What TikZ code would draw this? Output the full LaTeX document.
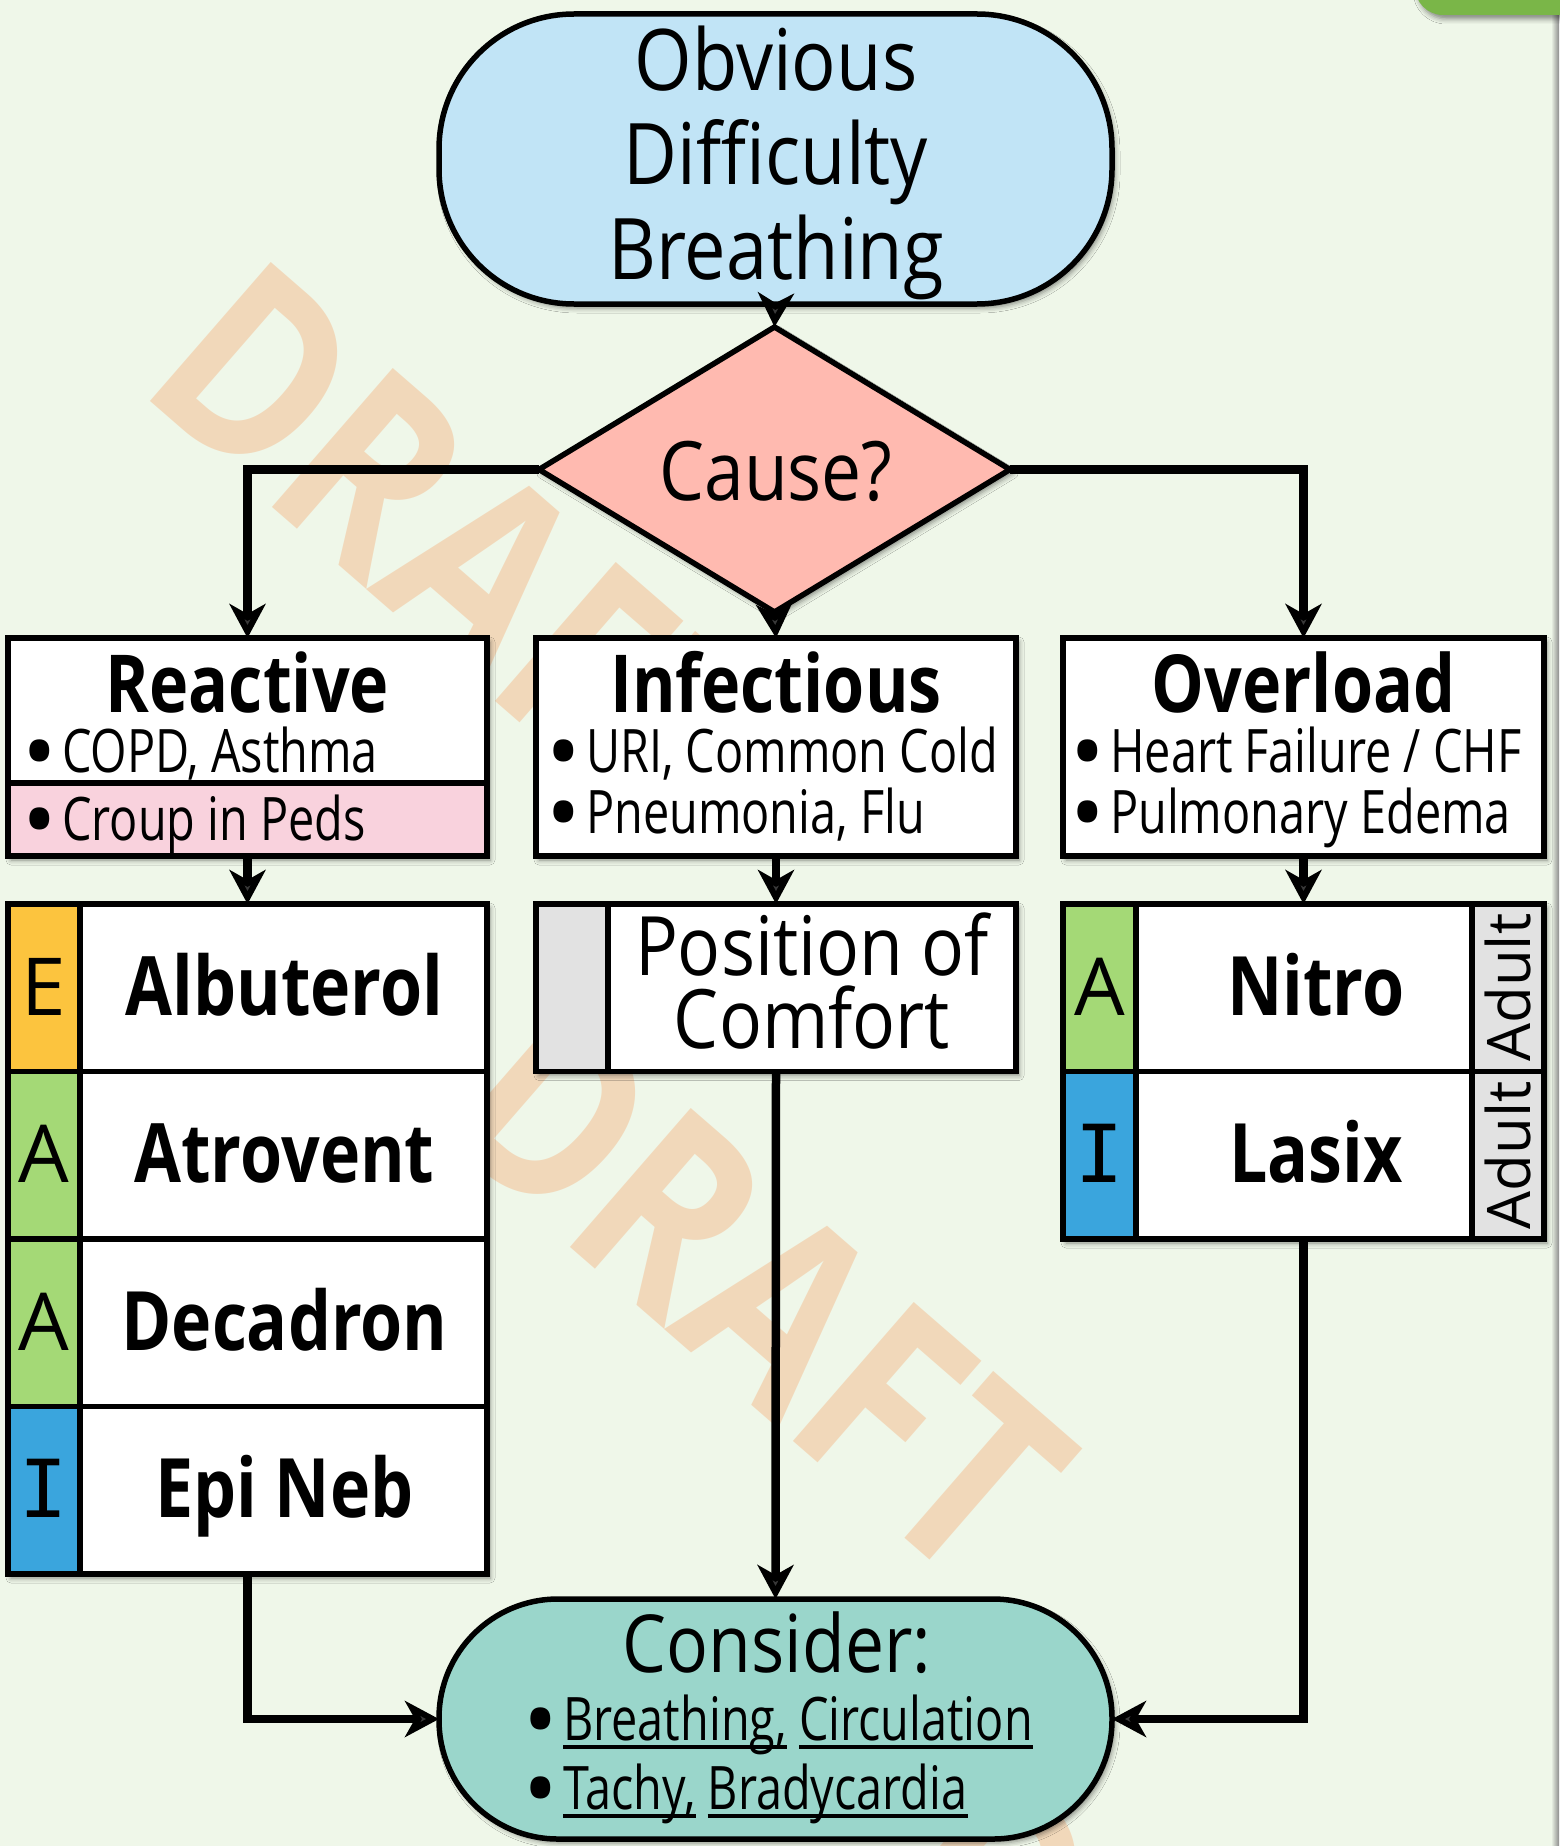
\documentclass[tikz,border=0pt]{standalone}
\usepackage{fontspec}
\setmainfont{Open Sans}
\newfontfamily\fsemi[FakeStretch=0.87]{Open Sans}
\newfontfamily\fcond[FakeStretch=0.78]{Open Sans}
\newfontfamily\fbold[FakeStretch=0.83]{Open Sans}
\newfontfamily\fwm[FakeStretch=0.85]{Open Sans}
\newfontfamily\fmono{DejaVu Sans Mono}
\usetikzlibrary{shapes.geometric,arrows.meta,shadows.blur}
\definecolor{bg}{RGB}{239,247,233}
\definecolor{startc}{RGB}{193,228,246}
\definecolor{causec}{RGB}{255,186,176}
\definecolor{endc}{RGB}{154,214,203}
\definecolor{pinkc}{RGB}{249,210,221}
\definecolor{yelc}{RGB}{252,196,62}
\definecolor{grnc}{RGB}{164,217,118}
\definecolor{bluc}{RGB}{58,165,221}
\definecolor{grayc}{RGB}{226,226,226}
\definecolor{wmc}{RGB}{245,168,112}
\definecolor{topgreen}{RGB}{122,182,72}
\newcommand\myul[1]{\leavevmode\setbox0=\hbox{#1}\rlap{\rule[-9pt]{\wd0}{4pt}}\box0\relax}
\newcommand\bu{\rlap{\hspace{-7pt}\rmfamily\fontsize{92}{60}\selectfont\raisebox{-12pt}{•}}\hspace{33pt}}
\tikzset{
  boxf/.style={draw=black, line width=5.5pt, outer sep=0pt, inner sep=0pt,
    blur shadow={shadow xshift=3pt, shadow yshift=-4pt, shadow blur radius=5pt, shadow opacity=45}},
  cellf/.style={draw=black, line width=5.5pt, outer sep=0pt, inner sep=0pt, anchor=north west},
  conn/.style={line width=8.5pt, -{Stealth[length=34pt,width=36pt,inset=10pt]}},
  lblf/.style={inner sep=0pt, anchor=base},
  bulf/.style={inner sep=0pt, anchor=base west, font=\fcond\fontsize{60}{60}\selectfont},
  ttlf/.style={lblf, font=\fbold\bfseries\fontsize{80}{80}\selectfont},
  medf/.style={lblf, font=\fbold\bfseries\fontsize{82}{82}\selectfont},
  bigf/.style={lblf, font=\fsemi\fontsize{85}{85}\selectfont},
  lettf/.style={lblf, font=\fontsize{80}{80}\selectfont},
  wmf/.style={inner sep=0pt, rotate=-41, text=wmc, text opacity=0.38, font=\fwm\bfseries\fontsize{258}{258}\selectfont},
}
\begin{document}
\begin{tikzpicture}[x=1pt,y=-1pt]
\useasboundingbox (0,0) rectangle (1559,1846);
\fill[bg] (0,0) rectangle (1559,1846);
\shade[left color=bg, right color=black!45] (1551,0) rectangle (1559,1846);
% watermark
\begin{scope}
\clip (0,0) rectangle (1559,1846);
\node[wmf] (wm1) at (462,550) {DRAFT};
\node[wmf] (wm2) at (760,1290) {DRAFT};
\node[wmf] (wm3) at (1200,2055) {DRAFT};
\end{scope}
\fill[topgreen, rounded corners=28pt, blur shadow={shadow xshift=3pt, shadow yshift=-4pt, shadow blur radius=5pt, shadow opacity=45}] (1415,-60) rectangle (1640,15);

% top terminal
\node[boxf, fill=startc, minimum width=673pt, minimum height=290pt, rounded corners=135pt] (start) at (775.5,159) {};
\node[bigf] (st1) at (776,91) {Obvious};
\node[bigf] (st2) at (776,185) {Difficulty};
\node[bigf] (st3) at (776,279) {Breathing};

% diamond
\node[boxf, diamond, fill=causec, minimum width=471pt, minimum height=285pt, aspect=1.65] (cause) at (774.5,469.5) {};
\node[lblf, font=\fsemi\fontsize{82}{82}\selectfont] (causeT) at (776,500) {Cause?};

% row 1
\node[boxf, fill=white, minimum width=479pt, minimum height=218pt] (reac) at (247.5,747) {};
\node[cellf, fill=pinkc, minimum width=479pt, minimum height=73pt, anchor=south] (croup) at (reac.south) {};
\node[ttlf] (reacT) at (247.5,712) {Reactive};
\node[bulf] (reac1) at (29,772) {\bu COPD, Asthma};
\node[bulf] (reac2) at (29,840) {\bu Croup in Peds};

\node[boxf, fill=white, minimum width=480pt, minimum height=218pt] (infe) at (776,747) {};
\node[ttlf] (infeT) at (776,712) {Infectious};
\node[bulf] (infe1) at (553,772) {\bu URI, Common Cold};
\node[bulf] (infe2) at (553,833) {\bu Pneumonia, Flu};

\node[boxf, fill=white, minimum width=481pt, minimum height=218pt] (over) at (1303.5,747) {};
\node[ttlf] (overT) at (1303.5,712) {Overload};
\node[bulf] (over1) at (1077,772) {\bu Heart Failure / CHF};
\node[bulf] (over2) at (1077,833) {\bu Pulmonary Edema};

% row 2 left
\node[boxf, fill=white, minimum width=479pt, minimum height=670pt, anchor=north west] (meds) at (8,904) {};
\node[cellf, fill=yelc, minimum width=72pt, minimum height=167.5pt] (cE) at (8,904) {};
\node[cellf, fill=white, minimum width=407pt, minimum height=167.5pt] (albu) at (80,904) {};
\node[cellf, fill=grnc, minimum width=72pt, minimum height=167.5pt] (cA1) at (8,1071.5) {};
\node[cellf, fill=white, minimum width=407pt, minimum height=167.5pt] (atro) at (80,1071.5) {};
\node[cellf, fill=grnc, minimum width=72pt, minimum height=167.5pt] (cA2) at (8,1239) {};
\node[cellf, fill=white, minimum width=407pt, minimum height=167.5pt] (deca) at (80,1239) {};
\node[cellf, fill=bluc, minimum width=72pt, minimum height=167.5pt] (cI) at (8,1406.5) {};
\node[cellf, fill=white, minimum width=407pt, minimum height=167.5pt] (epin) at (80,1406.5) {};
\node[lettf] (lE) at (44,1015) {E};
\node[lettf] (lA1) at (44,1182.5) {A};
\node[lettf] (lA2) at (44,1350) {A};
\node[lblf, font=\fmono\fontsize{80}{80}\selectfont] (lI) at (44,1517.5) {I};
\node[medf] (albuT) at (284.5,1015) {Albuterol};
\node[medf] (atroT) at (284.5,1182.5) {Atrovent};
\node[medf] (decaT) at (284.5,1350) {Decadron};
\node[medf] (epinT) at (284.5,1517.5) {Epi Neb};

% row 2 middle
\node[boxf, fill=white, minimum width=480pt, minimum height=167.5pt, anchor=north west] (pos) at (536,904) {};
\node[cellf, fill=grayc, minimum width=72pt, minimum height=167.5pt] (cG) at (536,904) {};
\node[lblf, font=\fsemi\fontsize{82}{82}\selectfont] (pos1) at (812,975) {Position of};
\node[lblf, font=\fsemi\fontsize{82}{82}\selectfont] (pos2) at (812,1048) {Comfort};

% row 2 right
\node[boxf, fill=white, minimum width=481pt, minimum height=335pt, anchor=north west] (nl) at (1063,904) {};
\node[cellf, fill=grnc, minimum width=73pt, minimum height=167.5pt] (cA3) at (1063,904) {};
\node[cellf, fill=white, minimum width=336pt, minimum height=167.5pt] (nitr) at (1136,904) {};
\node[cellf, fill=grayc, minimum width=72pt, minimum height=167.5pt] (ad1) at (1472,904) {};
\node[cellf, fill=bluc, minimum width=73pt, minimum height=167.5pt] (cI2) at (1063,1071.5) {};
\node[cellf, fill=white, minimum width=336pt, minimum height=167.5pt] (lasi) at (1136,1071.5) {};
\node[cellf, fill=grayc, minimum width=72pt, minimum height=167.5pt] (ad2) at (1472,1071.5) {};
\node[lettf] (lA3) at (1099.5,1015) {A};
\node[lblf, font=\fmono\fontsize{80}{80}\selectfont] (lI2) at (1099.5,1182.5) {I};
\node[medf] (nitrT) at (1316,1015) {Nitro};
\node[medf] (lasiT) at (1316,1182.5) {Lasix};
\node[inner sep=0pt, rotate=90, font=\fontsize{60}{60}\selectfont] (ad1T) at (ad1.center) {Adult};
\node[inner sep=0pt, rotate=90, font=\fontsize{60}{60}\selectfont] (ad2T) at (ad2.center) {Adult};

% bottom terminal
\node[boxf, fill=endc, minimum width=673pt, minimum height=240pt, rounded corners=119pt] (cons) at (775.5,1719) {};
\node[lblf, font=\fsemi\fontsize{80}{80}\selectfont] (consT) at (777,1672) {Consider:};
\node[bulf] (cons1) at (530,1740) {\bu\myul{Breathing,} \myul{Circulation}};
\node[bulf] (cons2) at (530,1809) {\bu\myul{Tachy,} \myul{Bradycardia}};

% connectors
\draw[conn] (start.south) -- (cause.north);
\draw[conn] (cause.west) -| (reac.north);
\draw[conn] (cause.east) -| (over.north);
\draw[conn] (cause.south) -- (infe.north);
\draw[conn] (reac.south) -- (meds.north);
\draw[conn] (infe.south) -- (pos.north);
\draw[conn] (over.south) -- (nl.north);
\draw[conn] (meds.south) |- (cons.west);
\draw[conn] (pos.south) -- (cons.north);
\draw[conn] (nl.south) |- (cons.east);
\end{tikzpicture}
\end{document}
